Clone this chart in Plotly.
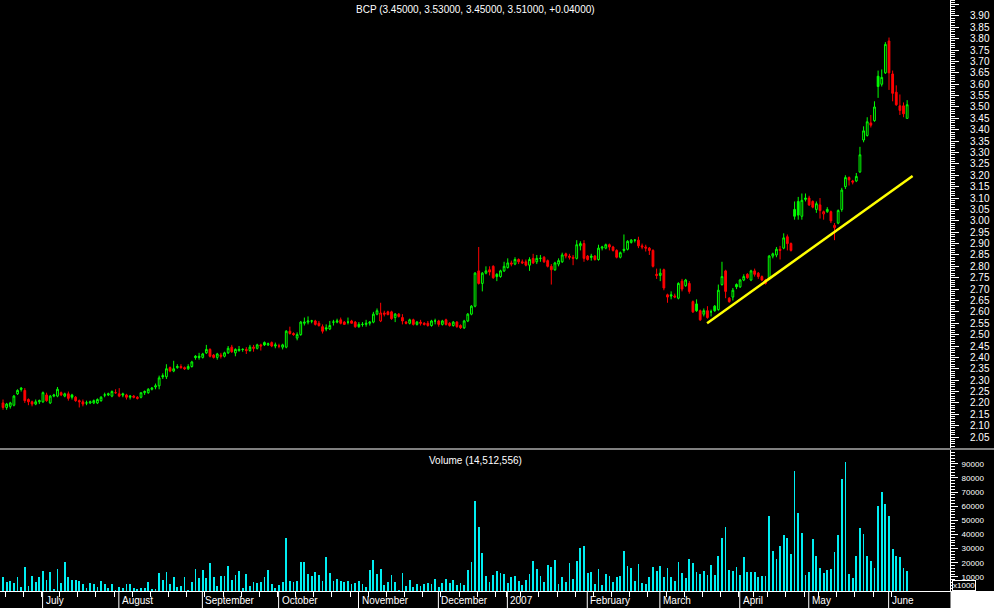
import pandas as pd
import plotly.graph_objects as go

# ---------------- data ----------------
holidays = ["2006-12-25", "2006-12-26", "2007-01-01", "2007-04-06", "2007-04-09", "2007-05-01"]
dates = [d for d in pd.bdate_range("2006-06-16", "2007-06-08") if d.strftime("%Y-%m-%d") not in holidays]

opens = [
    2.20, 2.18, 2.185, 2.19, 2.24, 2.265, 2.255, 2.215, 2.205, 2.195,
    2.205, 2.205, 2.235, 2.20, 2.23, 2.23, 2.245, 2.23, 2.24, 2.235,
    2.225, 2.21, 2.205, 2.20, 2.20, 2.20, 2.20, 2.21, 2.235, 2.235,
    2.23, 2.245, 2.24, 2.24, 2.235, 2.225, 2.23, 2.225, 2.225, 2.245,
    2.245, 2.26, 2.27, 2.275, 2.32, 2.315, 2.355, 2.34, 2.355, 2.36,
    2.355, 2.35, 2.36, 2.405, 2.405, 2.40, 2.42, 2.435, 2.41, 2.40,
    2.41, 2.405, 2.42, 2.445, 2.42, 2.43, 2.435, 2.435, 2.43, 2.445,
    2.44, 2.455, 2.465, 2.455, 2.465, 2.45, 2.45, 2.445, 2.445, 2.515,
    2.505, 2.485, 2.50, 2.55, 2.555, 2.56, 2.56, 2.55, 2.535, 2.53,
    2.525, 2.555, 2.555, 2.565, 2.555, 2.555, 2.56, 2.555, 2.535, 2.545,
    2.545, 2.55, 2.555, 2.59, 2.56, 2.595, 2.60, 2.60, 2.575, 2.59,
    2.575, 2.555, 2.55, 2.565, 2.545, 2.555, 2.55, 2.55, 2.54, 2.56,
    2.56, 2.545, 2.565, 2.55, 2.54, 2.555, 2.54, 2.53, 2.56, 2.59,
    2.625, 2.78, 2.725, 2.77, 2.785, 2.80, 2.765, 2.755, 2.78, 2.795,
    2.815, 2.81, 2.83, 2.82, 2.82, 2.805, 2.835, 2.82, 2.835, 2.84,
    2.825, 2.80, 2.785, 2.81, 2.82, 2.855, 2.845, 2.84, 2.835, 2.89,
    2.90, 2.845, 2.845, 2.845, 2.83, 2.88, 2.88, 2.895, 2.885, 2.87,
    2.84, 2.875, 2.875, 2.905, 2.915, 2.915, 2.89, 2.885, 2.88, 2.87,
    2.765, 2.76, 2.785, 2.675, 2.675, 2.67, 2.66, 2.735, 2.715, 2.725,
    2.645, 2.635, 2.605, 2.59, 2.605, 2.60, 2.625, 2.61, 2.72, 2.78,
    2.66, 2.665, 2.72, 2.71, 2.74, 2.765, 2.74, 2.78, 2.77, 2.755,
    2.74, 2.745, 2.845, 2.85, 2.875, 2.88, 2.93, 2.90, 3.05, 3.085,
    3.02, 3.10, 3.10, 3.085, 3.05, 3.07, 3.03, 3.04, 3.04, 2.97,
    2.99, 3.05, 3.15, 3.19, 3.175, 3.175, 3.215, 3.355, 3.375, 3.43,
    3.44, 3.635, 3.60, 3.65, 3.79, 3.645, 3.565, 3.505, 3.505, 3.45,
]
highs = [
    2.215, 2.20, 2.205, 2.235, 2.26, 2.27, 2.265, 2.22, 2.21, 2.215,
    2.215, 2.25, 2.245, 2.235, 2.24, 2.27, 2.25, 2.245, 2.25, 2.24,
    2.23, 2.215, 2.215, 2.21, 2.21, 2.215, 2.22, 2.23, 2.245, 2.245,
    2.255, 2.26, 2.265, 2.245, 2.24, 2.235, 2.235, 2.23, 2.245, 2.255,
    2.265, 2.27, 2.285, 2.32, 2.33, 2.37, 2.36, 2.385, 2.37, 2.37,
    2.36, 2.37, 2.385, 2.41, 2.42, 2.42, 2.455, 2.44, 2.415, 2.42,
    2.42, 2.425, 2.45, 2.455, 2.44, 2.45, 2.44, 2.445, 2.455, 2.455,
    2.46, 2.46, 2.47, 2.465, 2.47, 2.465, 2.46, 2.46, 2.52, 2.535,
    2.51, 2.51, 2.56, 2.575, 2.58, 2.565, 2.565, 2.56, 2.545, 2.545,
    2.56, 2.565, 2.57, 2.575, 2.56, 2.575, 2.565, 2.56, 2.555, 2.555,
    2.565, 2.56, 2.60, 2.615, 2.64, 2.605, 2.605, 2.605, 2.595, 2.595,
    2.59, 2.56, 2.57, 2.57, 2.56, 2.565, 2.555, 2.56, 2.565, 2.57,
    2.565, 2.565, 2.57, 2.555, 2.56, 2.56, 2.545, 2.565, 2.595, 2.63,
    2.775, 2.885, 2.775, 2.80, 2.80, 2.805, 2.77, 2.785, 2.82, 2.835,
    2.825, 2.84, 2.835, 2.83, 2.83, 2.84, 2.855, 2.85, 2.85, 2.845,
    2.83, 2.81, 2.82, 2.835, 2.86, 2.86, 2.855, 2.85, 2.915, 2.91,
    2.915, 2.85, 2.855, 2.85, 2.895, 2.89, 2.90, 2.90, 2.89, 2.875,
    2.865, 2.94, 2.915, 2.92, 2.92, 2.93, 2.90, 2.895, 2.885, 2.875,
    2.79, 2.79, 2.79, 2.68, 2.69, 2.68, 2.73, 2.745, 2.745, 2.735,
    2.65, 2.655, 2.61, 2.615, 2.625, 2.61, 2.63, 2.72, 2.82, 2.785,
    2.665, 2.705, 2.725, 2.745, 2.765, 2.77, 2.785, 2.79, 2.775, 2.76,
    2.745, 2.85, 2.86, 2.885, 2.89, 2.945, 2.94, 2.905, 3.085, 3.105,
    3.12, 3.12, 3.11, 3.09, 3.085, 3.10, 3.045, 3.06, 3.045, 2.99,
    3.05, 3.145, 3.20, 3.195, 3.18, 3.21, 3.325, 3.415, 3.455, 3.465,
    3.525, 3.66, 3.665, 3.785, 3.805, 3.66, 3.595, 3.555, 3.52, 3.53,
]
lows = [
    2.17, 2.17, 2.175, 2.185, 2.235, 2.25, 2.20, 2.19, 2.185, 2.19,
    2.195, 2.20, 2.205, 2.195, 2.225, 2.225, 2.23, 2.225, 2.21, 2.215,
    2.205, 2.18, 2.185, 2.19, 2.195, 2.195, 2.195, 2.205, 2.225, 2.23,
    2.225, 2.24, 2.225, 2.225, 2.215, 2.215, 2.22, 2.215, 2.22, 2.235,
    2.24, 2.255, 2.26, 2.26, 2.305, 2.305, 2.335, 2.335, 2.35, 2.35,
    2.345, 2.345, 2.355, 2.39, 2.39, 2.395, 2.415, 2.40, 2.395, 2.39,
    2.395, 2.40, 2.415, 2.42, 2.405, 2.425, 2.425, 2.415, 2.425, 2.425,
    2.435, 2.43, 2.45, 2.45, 2.445, 2.44, 2.44, 2.435, 2.44, 2.50,
    2.495, 2.475, 2.495, 2.54, 2.545, 2.55, 2.54, 2.535, 2.505, 2.515,
    2.52, 2.54, 2.55, 2.545, 2.545, 2.545, 2.55, 2.53, 2.53, 2.535,
    2.535, 2.54, 2.55, 2.585, 2.555, 2.58, 2.585, 2.565, 2.555, 2.575,
    2.545, 2.545, 2.545, 2.54, 2.54, 2.54, 2.54, 2.535, 2.535, 2.545,
    2.535, 2.54, 2.54, 2.535, 2.535, 2.53, 2.525, 2.525, 2.555, 2.585,
    2.62, 2.72, 2.69, 2.765, 2.76, 2.745, 2.735, 2.75, 2.775, 2.79,
    2.80, 2.805, 2.81, 2.81, 2.80, 2.78, 2.81, 2.81, 2.82, 2.815,
    2.795, 2.72, 2.78, 2.80, 2.815, 2.835, 2.83, 2.805, 2.83, 2.87,
    2.82, 2.825, 2.825, 2.825, 2.825, 2.87, 2.875, 2.87, 2.865, 2.835,
    2.835, 2.86, 2.87, 2.90, 2.905, 2.88, 2.875, 2.865, 2.85, 2.795,
    2.745, 2.735, 2.695, 2.64, 2.655, 2.66, 2.655, 2.69, 2.71, 2.68,
    2.595, 2.60, 2.56, 2.58, 2.57, 2.58, 2.60, 2.605, 2.715, 2.66,
    2.64, 2.65, 2.70, 2.705, 2.735, 2.745, 2.735, 2.755, 2.745, 2.735,
    2.72, 2.74, 2.835, 2.84, 2.83, 2.875, 2.87, 2.865, 3.005, 3.005,
    3.005, 3.085, 3.065, 3.055, 3.035, 3.01, 3.005, 3.035, 2.99, 2.915,
    2.985, 3.04, 3.14, 3.155, 3.16, 3.17, 3.21, 3.345, 3.37, 3.41,
    3.435, 3.54, 3.59, 3.645, 3.575, 3.525, 3.505, 3.465, 3.455, 3.45,
]
closes = [
    2.18, 2.195, 2.20, 2.23, 2.255, 2.26, 2.21, 2.205, 2.195, 2.205,
    2.21, 2.245, 2.21, 2.23, 2.235, 2.26, 2.235, 2.24, 2.22, 2.225,
    2.21, 2.205, 2.195, 2.20, 2.205, 2.21, 2.215, 2.225, 2.235, 2.24,
    2.25, 2.245, 2.23, 2.235, 2.225, 2.23, 2.225, 2.22, 2.245, 2.25,
    2.26, 2.265, 2.275, 2.31, 2.315, 2.35, 2.34, 2.35, 2.36, 2.355,
    2.35, 2.36, 2.38, 2.40, 2.40, 2.415, 2.435, 2.405, 2.40, 2.415,
    2.405, 2.42, 2.44, 2.425, 2.435, 2.435, 2.435, 2.43, 2.445, 2.44,
    2.455, 2.45, 2.455, 2.46, 2.45, 2.455, 2.45, 2.455, 2.515, 2.505,
    2.50, 2.50, 2.555, 2.555, 2.56, 2.56, 2.545, 2.54, 2.515, 2.525,
    2.54, 2.555, 2.56, 2.55, 2.545, 2.555, 2.55, 2.535, 2.545, 2.545,
    2.55, 2.555, 2.59, 2.605, 2.595, 2.59, 2.588, 2.57, 2.59, 2.58,
    2.56, 2.55, 2.565, 2.545, 2.555, 2.55, 2.545, 2.54, 2.56, 2.56,
    2.545, 2.56, 2.545, 2.54, 2.555, 2.535, 2.53, 2.56, 2.59, 2.625,
    2.77, 2.725, 2.77, 2.78, 2.775, 2.75, 2.755, 2.78, 2.80, 2.815,
    2.81, 2.83, 2.82, 2.815, 2.805, 2.83, 2.815, 2.835, 2.835, 2.82,
    2.80, 2.785, 2.815, 2.825, 2.85, 2.845, 2.84, 2.835, 2.895, 2.90,
    2.835, 2.83, 2.84, 2.83, 2.88, 2.885, 2.895, 2.885, 2.87, 2.84,
    2.86, 2.87, 2.91, 2.915, 2.915, 2.89, 2.885, 2.88, 2.87, 2.80,
    2.76, 2.77, 2.705, 2.665, 2.67, 2.665, 2.725, 2.70, 2.74, 2.69,
    2.60, 2.605, 2.565, 2.605, 2.575, 2.60, 2.605, 2.695, 2.755, 2.69,
    2.645, 2.695, 2.71, 2.74, 2.755, 2.75, 2.78, 2.765, 2.755, 2.74,
    2.725, 2.845, 2.855, 2.875, 2.87, 2.925, 2.90, 2.87, 3.02, 3.025,
    3.09, 3.095, 3.07, 3.06, 3.075, 3.045, 3.04, 3.05, 3.00, 2.98,
    3.045, 3.135, 3.19, 3.18, 3.17, 3.195, 3.29, 3.395, 3.435, 3.42,
    3.50, 3.59, 3.63, 3.775, 3.65, 3.56, 3.51, 3.485, 3.47, 3.51,
]
# volume in thousands of shares (axis is x1000)
volumes = [
    9900, 6400, 7100, 5400, 9900, 2800, 17000, 3800, 10600, 6400,
    9900, 14200, 7800, 13500, 1400, 15600, 5400, 20600, 9900, 7800,
    7800, 7100, 5000, 2100, 5700, 5000, 2800, 7100, 5000, 2100,
    5000, 700, 2800, 2100, 5000, 5000, 2100, 1400, 2100, 2100,
    6400, 1400, 1400, 12800, 7800, 13500, 5000, 9900, 2800, 3500,
    9900, 700, 6400, 15600, 9200, 14900, 9200, 19900, 9900, 3500,
    10600, 10600, 17700, 7800, 11300, 14200, 2100, 12100, 3500, 6400,
    5700, 6400, 9900, 14900, 5000, 2100, 4300, 6400, 37600, 7100,
    6400, 7100, 20600, 20600, 12100, 10600, 13500, 11300, 7100, 24100,
    12800, 7100, 8500, 7100, 6400, 7100, 5000, 5700, 7100, 5000,
    2800, 14900, 22000, 12100, 15600, 4300, 6400, 11300, 6400, 700,
    12800, 3500, 7800, 2800, 5000, 3500, 5000, 5700, 5000, 8500,
    2800, 5700, 8500, 5700, 7800, 4300, 5700, 4300, 14900, 20600,
    63800, 45400, 27000, 10600, 6400, 11300, 14200, 12800, 12100, 5700,
    9900, 10600, 7100, 4300, 7800, 12100, 21300, 15600, 10600, 6400,
    18400, 17000, 22000, 5000, 9900, 6400, 19900, 8500, 21300, 30500,
    31900, 12800, 13500, 5000, 15600, 4300, 12100, 10600, 6400, 9900,
    10600, 28400, 17700, 16300, 7100, 19100, 5700, 5000, 9900, 17000,
    14200, 17700, 9900, 16300, 9900, 7100, 20600, 12800, 9200, 22700,
    19900, 13500, 12100, 14200, 11300, 18400, 11300, 24800, 37600, 45400,
    14900, 14200, 17000, 11300, 24100, 13500, 13500, 13500, 9900, 10600,
    10600, 53200, 28400, 22700, 31900, 39700, 37600, 26200, 85100, 55300,
    41100, 11300, 13500, 36900, 24800, 16300, 12800, 14900, 15600, 27700,
    39700, 79400, 91500, 12100, 9200, 24800, 44700, 40400, 24800, 21300,
    16300, 60300, 70200, 61700, 53200, 29800, 24800, 24100, 16300, 14512.556,
]
month_labels = ["July", "August", "September", "October", "November", "December",
                "2007", "February", "March", "April", "May", "June"]

# trend line drawn on the chart (bar position, price)
trend_pos = [193.9, 250.5]
trend_price = [2.550, 3.197]

title_text = "BCP (3.45000, 3.53000, 3.45000, 3.51000, +0.04000)"
volume_text = "Volume (14,512,556)"

# ---------------- figure ----------------
n = min(len(dates), len(closes))
idx = list(range(n))
up = [closes[i] >= (closes[i - 1] if i > 0 else opens[i]) for i in idx]

GREEN = "#00FF00"
RED = "#FF0000"
CYAN = "#00EEF2"
FONT = "Liberation Sans, Arial, sans-serif"


def candles(sel, color):
    xs = [i for i in idx if sel[i]]
    return go.Candlestick(
        x=xs,
        open=[opens[i] for i in xs], high=[highs[i] for i in xs],
        low=[lows[i] for i in xs], close=[closes[i] for i in xs],
        increasing=dict(line=dict(color=color, width=1), fillcolor="#000000"),
        decreasing=dict(line=dict(color=color, width=1), fillcolor=color),
        whiskerwidth=0, hoverinfo="skip", showlegend=False,
        xaxis="x", yaxis="y",
    )


fig = go.Figure()
fig.add_trace(go.Bar(x=idx, y=volumes[:n], width=0.22, xaxis="x", yaxis="y2",
                     marker=dict(color=CYAN, line=dict(width=0)),
                     hoverinfo="skip", showlegend=False))
fig.add_trace(candles(up, GREEN))
fig.add_trace(candles([not u for u in up], RED))
fig.add_trace(go.Scatter(x=trend_pos, y=trend_price, mode="lines",
                         line=dict(color="#FFFF00", width=2.5),
                         hoverinfo="skip", showlegend=False, xaxis="x", yaxis="y"))

# week / month boundaries from the dates
week_ticks = [i - 0.4 for i in idx[1:] if dates[i].weekday() < dates[i - 1].weekday()]
month_starts = [i for i in idx[1:] if dates[i].month != dates[i - 1].month]

W, H = 994, 608
L, R, T, B = 0, 44, 0, 17
plot_h = H - T - B
x_right_paper = W / (W - L - R)

shapes = []
annotations = []
for k, m in enumerate(month_starts):
    shapes.append(dict(type="line", xref="x", yref="paper", x0=m - 0.1, x1=m - 0.1,
                       y0=0, y1=-B / plot_h, line=dict(color="white", width=1)))
    if k < len(month_labels):
        annotations.append(dict(xref="x", yref="paper", x=m - 0.1, y=-B / plot_h / 2,
                                xanchor="left", yanchor="middle", xshift=1, yshift=-1,
                                showarrow=False, text=month_labels[k],
                                font=dict(color="white", size=10, family=FONT)))

sep_y = (H - B - 449) / plot_h
shapes.append(dict(type="line", xref="paper", yref="paper", x0=0, x1=x_right_paper,
                   y0=sep_y, y1=sep_y, line=dict(color="white", width=1)))
shapes.append(dict(type="rect", xref="paper", yref="paper", x0=1.0005, x1=x_right_paper,
                   y0=-B / plot_h, y1=0, fillcolor="white", line=dict(width=0)))

annotations.append(dict(xref="paper", yref="paper", x=0.5, y=1, yanchor="top", yshift=-2,
                        showarrow=False, text=title_text,
                        font=dict(color="white", size=10, family=FONT)))
vol_top = (H - B - 450) / plot_h
annotations.append(dict(xref="paper", yref="paper", x=0.5, y=vol_top, yanchor="top", yshift=-3,
                        showarrow=False, text=volume_text,
                        font=dict(color="white", size=10, family=FONT)))
annotations.append(dict(xref="paper", yref="paper", x=1, y=0, xanchor="left", yanchor="bottom",
                        xshift=2, yshift=0, showarrow=False, text="x1000",
                        bgcolor="black", bordercolor="white", borderwidth=1, borderpad=0,
                        font=dict(color="white", size=8, family=FONT)))

price_bottom = (H - B - 448) / plot_h

fig.update_layout(
    width=W, height=H,
    margin=dict(l=L, r=R, t=T, b=B, pad=0),
    paper_bgcolor="black", plot_bgcolor="black",
    showlegend=False, bargap=0,
    font=dict(family=FONT, color="white", size=10),
    xaxis=dict(range=[-0.83, 260.8], anchor="y2", showline=True, linecolor="white", linewidth=1,
               ticks="outside", ticklen=5, tickcolor="white", tickvals=week_ticks,
               showticklabels=False, showgrid=False, zeroline=False,
               rangeslider=dict(visible=False), fixedrange=True),
    yaxis=dict(domain=[price_bottom, 1], side="right", anchor="x", range=[2.002, 3.970],
               showline=True, linecolor="white", linewidth=1,
               ticks="outside", ticklen=8, tickcolor="white", tick0=2.05, dtick=0.05,
               tickformat=".2f", labelalias={"3.95": ""}, ticklabelstandoff=9,
               tickfont=dict(color="white", size=10, family=FONT),
               minor=dict(dtick=0.01, tick0=2.0, ticklen=4, tickcolor="white", ticks="outside"),
               showgrid=False, zeroline=False, automargin=False),
    yaxis2=dict(domain=[0, vol_top], side="right", anchor="x", range=[0, 99800],
                showline=True, linecolor="white", linewidth=1,
                ticks="outside", ticklen=7, tickcolor="white", tick0=0, dtick=10000,
                tickformat="d", labelalias={"0": ""}, ticklabelstandoff=2,
                tickfont=dict(color="white", size=8, family=FONT),
                minor=dict(dtick=2000, tick0=0, ticklen=4, tickcolor="white", ticks="outside"),
                showgrid=False, zeroline=False, automargin=False),
    shapes=shapes,
    annotations=annotations,
)

fig.write_html(
    "out.html",
    config={"displayModeBar": False},
    post_script="document.body.style.margin='0';document.body.style.overflow='hidden';",
)
